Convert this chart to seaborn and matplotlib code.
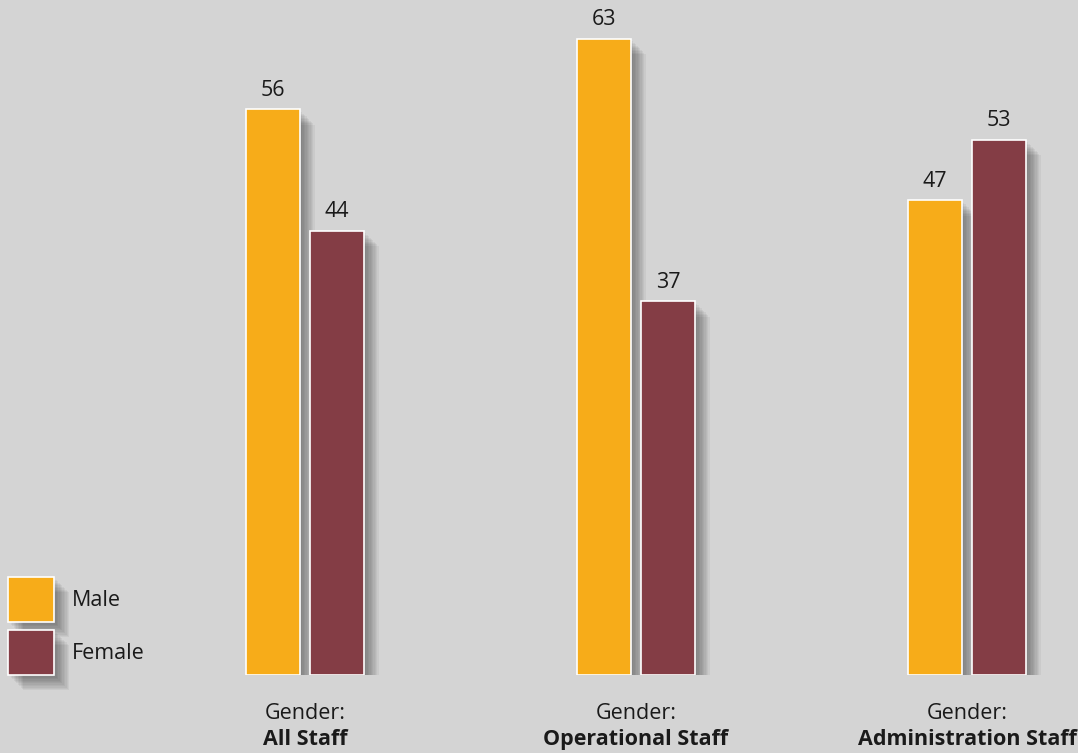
import matplotlib
matplotlib.use("Agg")
import matplotlib.pyplot as plt
import matplotlib.patheffects as pe
import pandas as pd
import seaborn as sns

groups = ["All Staff", "Operational Staff", "Administration Staff"]
male = [56, 63, 47]
female = [44, 37, 53]
series = ["Male", "Female"]
colors = ["#f7ac19", "#843d45"]
bg = "#d4d4d4"
ink = "#1a1a1a"

df = pd.DataFrame({
    "group": groups * 2,
    "gender": ["Male"] * 3 + ["Female"] * 3,
    "pct": male + female,
})

sns.set_theme(style="white")
plt.rcParams["font.family"] = ["Open Sans", "DejaVu Sans"]

W, H = 1078, 753
FS = 15.5
fig = plt.figure(figsize=(W / 100, H / 100), dpi=100, facecolor=bg)
ax = fig.add_axes([0, 78 / H, 1, 1 - 78 / H])
ax.set_facecolor(bg)

# soft drop shadow built from stacked offsets
shadow = [pe.SimplePatchShadow(offset=(d, -d), shadow_rgbFace="black", alpha=0.045)
          for d in (2, 3, 4, 5, 6, 7, 8, 9, 10, 11)]
shadow.append(pe.Normal())

sns.barplot(data=df, x="group", y="pct", hue="gender", order=groups, hue_order=series,
            palette=colors, saturation=1, width=0.387, gap=0.17, edgecolor="white",
            linewidth=1.2, ax=ax, legend=False)

for container in ax.containers:
    for bar in container:
        bar.set_path_effects(shadow)
    ax.bar_label(container, padding=6, fontsize=FS, color=ink)

ax.set_xlim(-305 / 331, (W - 305) / 331)
ax.set_ylim(0, 675 / 10.1)
ax.set_xlabel("")
ax.set_ylabel("")
ax.set_yticks([])
ax.set_xticks(range(len(groups)))
ax.set_xticklabels(["Gender:"] * len(groups), fontsize=FS, color=ink)
ax.tick_params(axis="x", length=0, pad=20)
for s in ax.spines.values():
    s.set_visible(False)

for i, g in enumerate(groups):
    ax.annotate(g, xy=(i, 0), xycoords=("data", "axes fraction"), xytext=(0, -39),
                textcoords="offset points", ha="center", va="top", fontsize=FS,
                fontweight="bold", color=ink)

handles = [plt.Rectangle((0, 0), 1, 1, facecolor=c, edgecolor="white", linewidth=1.2) for c in colors]
leg = fig.legend(handles, series, loc="lower left", bbox_to_anchor=(8 / W, 78 / H),
                 frameon=False, fontsize=FS, handlelength=2.14, handleheight=2.84,
                 labelspacing=0.37, handletextpad=0.85, borderpad=0, borderaxespad=0,
                 labelcolor=ink)
for p in leg.get_patches():
    p.set_path_effects(shadow)

fig.savefig("out.png", dpi=100, facecolor=bg)
